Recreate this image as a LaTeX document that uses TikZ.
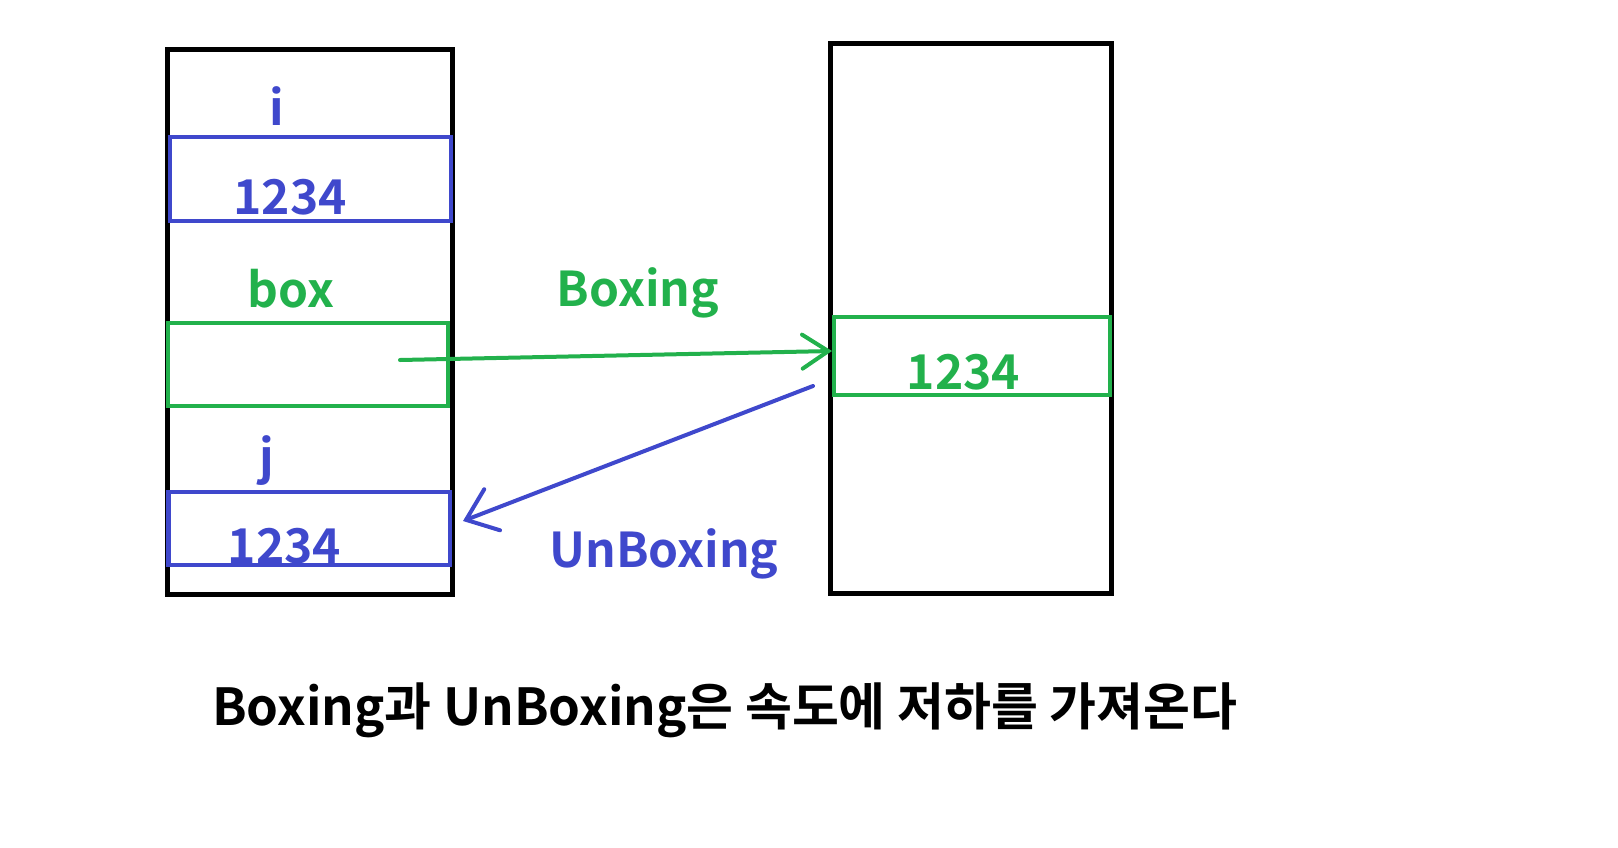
\documentclass[tikz,border=0pt]{standalone}
\usepackage{fontspec}
\setmainfont{Noto Sans CJK KR}[BoldFont={* Bold}]
\usetikzlibrary{arrows.meta}
\definecolor{pblue}{HTML}{3F48CC}
\definecolor{pgreen}{HTML}{22B14C}
\tikzset{
  mem/.style={draw=black,line width=5pt,inner sep=0pt},
  cell/.style={line width=4.5pt,inner sep=0pt},
  lbl/.style={font=\fontsize{48}{48}\selectfont\bfseries,anchor=base,inner sep=0pt},
  garrow/.style={draw=pgreen,line width=4pt,line cap=round,-{Straight Barb[length=26pt,width=34pt,line cap=round]}},
  barrow/.style={draw=pblue,line width=4pt,line cap=round,-{Straight Barb[length=28pt,width=44pt,line cap=round]}},
}
\begin{document}
\begin{tikzpicture}[x=1pt,y=-1pt]
\useasboundingbox (0,0) rectangle (1618,847);
% stacks
\node[mem,minimum width=284.5pt,minimum height=545.5pt] (stack) at (309.75,322) {};
\node[mem,minimum width=281pt,minimum height=550pt] (heap) at (970.5,318) {};
% cells
\node[cell,draw=pblue,minimum width=281pt,minimum height=84pt] (icell) at (310.5,179) {};
\node[cell,draw=pgreen,minimum width=280pt,minimum height=83pt] (boxcell) at (308,364.5) {};
\node[cell,draw=pblue,minimum width=281.5pt,minimum height=73pt] (jcell) at (309.25,528.5) {};
\node[cell,draw=pgreen,minimum width=276pt,minimum height=78pt] (hcell) at (972,356) {};
% labels
\node[lbl,text=pblue] (ilbl) at (277,125) {i};
\node[lbl,text=pblue] (ival) at (290,214) {1234};
\node[lbl,text=pgreen] (boxlbl) at (291,307) {box};
\node[lbl,text=pblue] (jlbl) at (267,474) {j};
\node[lbl,text=pblue] (jval) at (284.5,563) {1234};
\node[lbl,text=pgreen] (hval) at (963.5,389) {1234};
\node[lbl,text=pgreen] (boxing) at (638,306) {Boxing};
\node[lbl,text=pblue] (unboxing) at (664,567) {UnBoxing};
\node[font=\fontsize{51}{51}\selectfont\bfseries,anchor=base west,inner sep=0pt] (caption) at (212,725) {Boxing과 UnBoxing은 속도에 저하를 가져온다};
% arrows
\coordinate (gs) at (400,360);
\coordinate (ge) at (832,351);
\coordinate (bs) at (813,386);
\coordinate (be) at (463,521);
\draw[garrow] (gs) -- (ge);
\draw[barrow] (bs) -- (be);
\end{tikzpicture}
\end{document}
